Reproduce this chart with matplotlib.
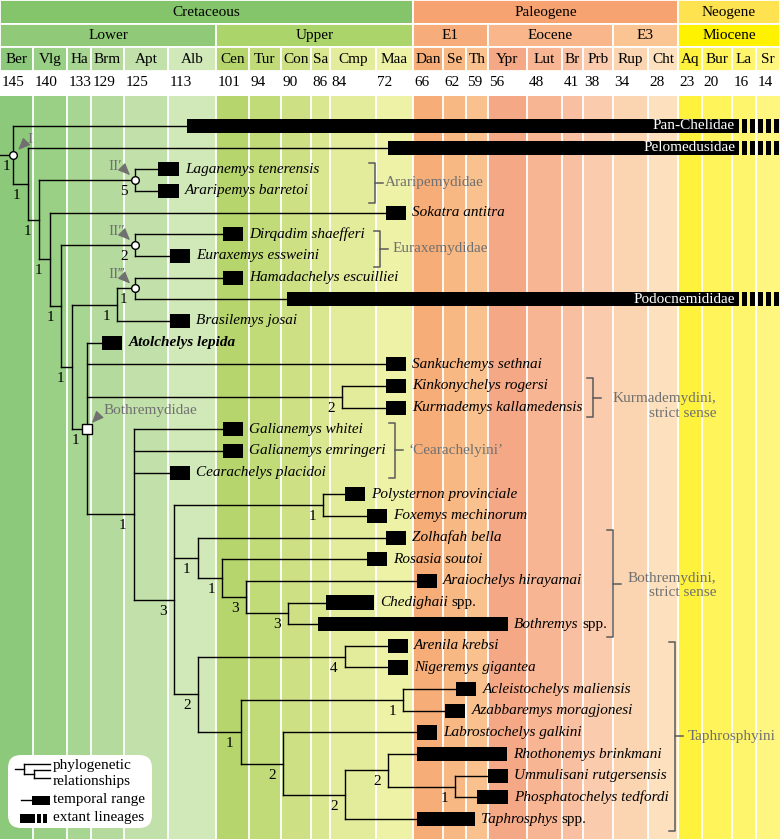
import numpy as np
import matplotlib.pyplot as plt
from matplotlib.patches import FancyBboxPatch

plt.rcParams['font.family'] = ['Liberation Serif', 'DejaVu Serif']
plt.rcParams['font.size'] = 10.5

# --- geological time scale (Ma) ---
periods = ['Cretaceous', 'Paleogene', 'Neogene']
period_bounds = [145, 66, 23, 11.6]
epochs = ['Lower', 'Upper', 'E1', 'Eocene', 'E3', 'Miocene']
epoch_bounds = [145, 101, 66, 56, 34, 23, 11.6]
stages = ['Ber', 'Vlg', 'Ha', 'Brm', 'Apt', 'Alb', 'Cen', 'Tur', 'Con', 'Sa', 'Cmp', 'Maa',
          'Dan', 'Se', 'Th', 'Ypr', 'Lut', 'Br', 'Prb', 'Rup', 'Cht', 'Aq', 'Bur', 'La', 'Sr']
stage_bounds = [145, 140, 133, 129, 125, 113, 101, 94, 90, 86, 84, 72,
                66, 62, 59, 56, 48, 41, 38, 34, 28, 23, 20, 16, 14, 11.6]

# --- taxa, top to bottom, oldest / youngest record (Ma) ---
taxa = ['Pan-Chelidae', 'Pelomedusidae', 'Laganemys tenerensis', 'Araripemys barretoi',
        'Sokatra antitra', 'Dirqadim shaefferi', 'Euraxemys essweini',
        'Hamadachelys escuilliei', 'Podocnemididae', 'Brasilemys josai',
        'Atolchelys lepida', 'Sankuchemys sethnai', 'Kinkonychelys rogersi',
        'Kurmademys kallamedensis', 'Galianemys whitei', 'Galianemys emringeri',
        'Cearachelys placidoi', 'Polysternon provinciale', 'Foxemys mechinorum',
        'Zolhafah bella', 'Rosasia soutoi', 'Araiochelys hirayamai', 'Chedighaii spp.',
        'Bothremys spp.', 'Arenila krebsi', 'Nigeremys gigantea',
        'Acleistochelys maliensis', 'Azabbaremys moragjonesi', 'Labrostochelys galkini',
        'Rhothonemys brinkmani', 'Ummulisani rutgersensis', 'Phosphatochelys tedfordi',
        'Taphrosphys spp.']
oldest = [108.3, 70.0, 115.7, 115.7, 70.4, 99.5, 112.5, 99.5, 89.2, 112.5,
          127.7, 70.4, 70.4, 70.4, 99.5, 99.5, 112.5, 80.1, 74.4, 70.4, 74.4,
          65.5, 84.4, 85.3, 70.0, 70.0, 60.3, 61.7, 65.5, 65.5, 56.0, 57.5, 65.5]
youngest = [15.4, 15.4, 110.3, 110.3, 67.1, 95.3, 107.5, 95.3, 15.4, 107.5,
            125.2, 67.1, 67.1, 67.1, 95.3, 95.3, 107.5, 74.9, 70.2, 67.1, 70.2,
            62.8, 72.5, 51.9, 66.8, 66.8, 57.6, 59.1, 62.8, 52.1, 51.9, 51.9, 57.8]
extant = ['Pan-Chelidae', 'Pelomedusidae', 'Podocnemididae']
bold = ['Atolchelys lepida']

# --- tree: (node name, node age, support, children) ---
tree = ('I', 143.0, '1', [
    'Pan-Chelidae',
    ('', 140.8, '1', [
        'Pelomedusidae',
        ('', 138.8, '1', [
            ('II\u2032', 122.0, '5', ['Laganemys tenerensis', 'Araripemys barretoi']),
            ('', 136.5, '1', [
                'Sokatra antitra',
                ('', 134.2, '1', [
                    ('II\u2033', 122.0, '2', ['Dirqadim shaefferi', 'Euraxemys essweini']),
                    ('', 132.2, '1', [
                        ('', 125.8, '1', [
                            ('II\u2034', 122.0, '1', ['Hamadachelys escuilliei', 'Podocnemididae']),
                            'Brasilemys josai']),
                        ('Bothremydidae', 129.7, '1', [
                            'Atolchelys lepida',
                            'Sankuchemys sethnai',
                            ('', 80.9, '2', ['Kinkonychelys rogersi', 'Kurmademys kallamedensis']),
                            ('', 122.3, '1', [
                                'Galianemys whitei', 'Galianemys emringeri', 'Cearachelys placidoi',
                                ('', 111.5, '3', [
                                    ('', 84.7, '1', ['Polysternon provinciale', 'Foxemys mechinorum']),
                                    ('', 105.5, '1', [
                                        'Zolhafah bella',
                                        ('', 99.7, '1', [
                                            'Rosasia soutoi',
                                            ('', 94.6, '3', [
                                                'Araiochelys hirayamai',
                                                ('', 89.1, '3', ['Chedighaii spp.', 'Bothremys spp.']),
                                            ]),
                                        ]),
                                    ]),
                                    ('', 105.5, '2', [
                                        ('', 80.1, '4', ['Arenila krebsi', 'Nigeremys gigantea']),
                                        ('', 95.7, '1', [
                                            ('', 67.6, '1', ['Acleistochelys maliensis',
                                                             'Azabbaremys moragjonesi']),
                                            ('', 89.7, '2', [
                                                'Labrostochelys galkini',
                                                ('', 80.1, '2', [
                                                    ('', 70.05, '2', [
                                                        'Rhothonemys brinkmani',
                                                        ('', 60.4, '1', ['Ummulisani rutgersensis',
                                                                         'Phosphatochelys tedfordi']),
                                                    ]),
                                                    'Taphrosphys spp.',
                                                ]),
                                            ]),
                                        ]),
                                    ]),
                                ]),
                            ]),
                        ]),
                    ]),
                ]),
            ]),
        ]),
    ]),
])

# --- group brackets: label, x (px), first row, last row, text pad / shift (px) ---
brackets = [('Araripemydidae', 375, 1.7, 3.55, 10, 0),
            ('Euraxemydidae', 380, 4.85, 6.5, 13, 0),
            ('Kurmademydini,\nstrict sense', 593, 11.65, 13.45, 20, 8),
            ('\u2018Cearachelyini\u2019', 395, 13.7, 16.25, 14, 0),
            ('Bothremydini,\nstrict sense', 613, 18.65, 23.6, 15, 2),
            ('Taphrosphyini', 675, 23.8, 32.55, 13, 0)]

# --- colours ---
period_colors = ['#84c56b', '#f6a271', '#ffe24f']
epoch_colors = ['#90ca79', '#abd56a', '#f7ac7c', '#f8b68a', '#fbc593', '#fff200']
stage_colors = ['#8cc97a', '#9acf86', '#a7d592', '#b4da9d', '#c2e0aa', '#d1e8b9',
                '#b6d56c', '#c1db78', '#cde184', '#d8e790', '#e3ec9b', '#eef2a6',
                '#f7ad78', '#f8b883', '#f9c18d', '#f5a885', '#f7b593', '#f8c0a0',
                '#facbad', '#fbd5b1', '#fde1bf',
                '#fff23d', '#fff45a', '#fff56d', '#fff680']
GREY = '#707070'
LW = 1.0

# stage columns are not proportional to time: pixel edges of each column
col_px = np.array([0, 33, 67, 91, 124, 168, 216, 249, 281, 311, 330, 376, 413, 443,
                   466, 488, 527, 562, 583, 613, 648, 678, 702, 732, 756, 780], float)
col_ma = np.array(stage_bounds, float)


def fwd(ma):
    return np.interp(-np.asarray(ma, float), -col_ma, col_px)


def inv(px):
    return np.interp(np.asarray(px, float), col_px, col_ma)


# the axis scale must increase with the data value, so use -px
def scale_fwd(ma):
    return -fwd(ma)


def scale_inv(v):
    return inv(-np.asarray(v, float))


W, H = 780, 839
TOP = 96          # px where the tree panel begins
ROW0, ROWH = 126, 21.66

fig = plt.figure(figsize=(W / 100, H / 100), dpi=100)

# ---------------- header ----------------
axh = fig.add_axes([0, 1 - TOP / H, 1, TOP / H])
axh.set_xscale('function', functions=(scale_fwd, scale_inv))
axh.set_xlim(145, 11.6)
axh.set_ylim(TOP, 0)
axh.axis('off')


def header_row(names, bounds, colors, y0, y1):
    for j, nm in enumerate(names):
        a, b = bounds[j], bounds[j + 1]
        axh.barh((y0 + y1) / 2, b - a, left=a, height=y1 - y0, color=colors[j],
                 edgecolor='white', linewidth=1.3)
        mid = inv((fwd(a) + fwd(b)) / 2)
        axh.text(mid, (y0 + y1) / 2 + 0.5, nm, ha='center', va='center', fontsize=11)


header_row(periods, period_bounds, period_colors, 0, 23.5)
header_row(epochs, epoch_bounds, epoch_colors, 23.5, 47)
header_row(stages, stage_bounds, stage_colors, 47, 71)
for age in stage_bounds[:-1]:
    axh.annotate(f'{age:g}', (age, 82), xytext=(1, 0), textcoords='offset points',
                 ha='left', va='center', fontsize=11)

# ---------------- tree panel ----------------
ax = fig.add_axes([0, 0, 1, (H - TOP) / H])
ax.set_xscale('function', functions=(scale_fwd, scale_inv))
ax.set_xlim(145, 11.6)
ax.set_ylim((H - ROW0) / ROWH, (TOP - ROW0) / ROWH)
ax.axis('off')

for j in range(len(stages)):
    ax.axvspan(stage_bounds[j], stage_bounds[j + 1], color=stage_colors[j], lw=0, zorder=0)
for age in stage_bounds[1:-1]:
    ax.axvline(age, color='white', lw=1.3, zorder=1)

named = {}


def draw(node, parent):
    if isinstance(node, str):
        i = taxa.index(node)
        ax.plot([parent, oldest[i]], [i, i], color='k', lw=LW, zorder=2)
        return i
    name, age, support, kids = node
    ys = [draw(k, age) for k in kids]
    y = (ys[0] + ys[-1]) / 2
    ax.plot([age, age], [ys[0], ys[-1]], color='k', lw=LW, zorder=2)
    ax.plot([parent, age], [y, y], color='k', lw=LW, zorder=2)
    dx = -5 if node is tree else -8
    ax.annotate(support, (age, y), xytext=(dx, -8.3), textcoords='offset points',
                ha='center', va='center', fontsize=11)
    if name:
        named[name] = (age, y)
    return y


draw(tree, 145)

# node markers and their labels
for name, (age, y) in named.items():
    if name == 'Bothremydidae':
        ax.plot(age, y, 's', ms=6.5, mfc='white', mec='k', mew=1.0, zorder=5)
    else:
        ax.plot(age, y, 'o', ms=5.5, mfc='white', mec='k', mew=1.0, zorder=5)


def px_off(age, y, dx, dy):
    return inv(fwd(age) + dx), y + dy / ROWH


node_tags = {'I': ((17, -15), (5, -5), (11, -11)),
             'II\u2032': ((-20, -13.5), (-5, -5), (-11, -11)),
             'II\u2033': ((-18, -13.5), (-5, -5), (-11, -11)),
             'II\u2034': ((-18, -13.5), (-5, -5), (-11, -11)),
             'Bothremydidae': ((17, -18.5), (5, -5.5), (12, -13))}
for name, (txt, tip, tail) in node_tags.items():
    age, y = named[name]
    tx, ty = px_off(age, y, *txt)
    ha = 'left' if name == 'Bothremydidae' else 'center'
    ax.text(tx, ty, name, ha=ha, va='center', color=GREY, fontsize=11)
    ax.annotate('', xy=px_off(age, y, *tip), xytext=px_off(age, y, *tail),
                arrowprops=dict(arrowstyle='-|>,head_length=0.7,head_width=0.3',
                                color=GREY, lw=0.8, shrinkA=0, shrinkB=0), zorder=4)

# temporal ranges and names
for i, name in enumerate(taxa):
    ax.barh(i, youngest[i] - oldest[i], left=oldest[i], height=0.65, color='k', lw=0, zorder=3)
    if name in extant:
        ax.annotate(name, (youngest[i], i), xytext=(-3, 0), textcoords='offset points',
                    ha='right', va='center', color='white', fontsize=11, zorder=4)
        p = fwd(youngest[i]) + 3
        while p < W:
            a, b = inv(p), inv(min(p + 5, W))
            ax.barh(i, b - a, left=a, height=0.65, color='k', lw=0, zorder=3)
            p += 8
        continue
    weight = 'bold' if name in bold else 'normal'
    if name.endswith(' spp.'):
        t = ax.annotate(name[:-5], (youngest[i], i), xytext=(4.5, 0), textcoords='offset points',
                        ha='left', va='center', style='italic', fontsize=11)
        ax.annotate('spp.', xy=(1, 0), xycoords=t, xytext=(2.6, 0), textcoords='offset points',
                    ha='left', va='bottom', fontsize=11)
    else:
        ax.annotate(name, (youngest[i], i), xytext=(4.5, 0), textcoords='offset points',
                    ha='left', va='center', style='italic', weight=weight, fontsize=11)

# group brackets
for label, xpx, r0, r1, pad, shift in brackets:
    x, xl, xr = inv(xpx), inv(xpx - 6), inv(xpx + 8)
    ym = (r0 + r1) / 2
    ax.plot([xl, x, x, xl], [r0, r0, r1, r1], color='#5a5a5a', lw=1.1, zorder=2)
    ax.plot([x, xr], [ym, ym], color='#5a5a5a', lw=1.1, zorder=2)
    ax.text(inv(xpx + pad), ym + shift / ROWH, label, ha='left', va='center',
            multialignment='right', color=GREY, fontsize=11, linespacing=1.15)

# ---------------- legend ----------------
axl = fig.add_axes([8 / W, 1 - 828 / H, 144 / W, 73 / H])
axl.set_xlim(0, 144)
axl.set_ylim(73, 0)
axl.axis('off')
axl.add_patch(FancyBboxPatch((0, 0), 144, 73, boxstyle='round,pad=0,rounding_size=13',
                             fc='white', ec='none'))
for xs, ys in [([7, 16], [14, 14]), ([16, 16], [9, 19]), ([16, 42], [9, 9]),
               ([16, 26], [19, 19]), ([26, 26], [15, 23]), ([26, 42], [15, 15]),
               ([26, 42], [23, 23]), ([13, 26], [45, 45])]:
    axl.plot(xs, ys, color='k', lw=LW)
axl.add_patch(plt.Rectangle((24, 40.5), 18, 9, color='k', lw=0))
axl.add_patch(plt.Rectangle((12, 59), 15, 8.5, color='k', lw=0))
for x0 in (29, 35):
    axl.add_patch(plt.Rectangle((x0, 59), 4, 8.5, color='k', lw=0))
for y, s in [(10, 'phylogenetic'), (26, 'relationships'), (45, 'temporal range'),
             (63, 'extant lineages')]:
    axl.text(45, y, s, ha='left', va='center', fontsize=11)

fig.savefig('out.png', dpi=100)
